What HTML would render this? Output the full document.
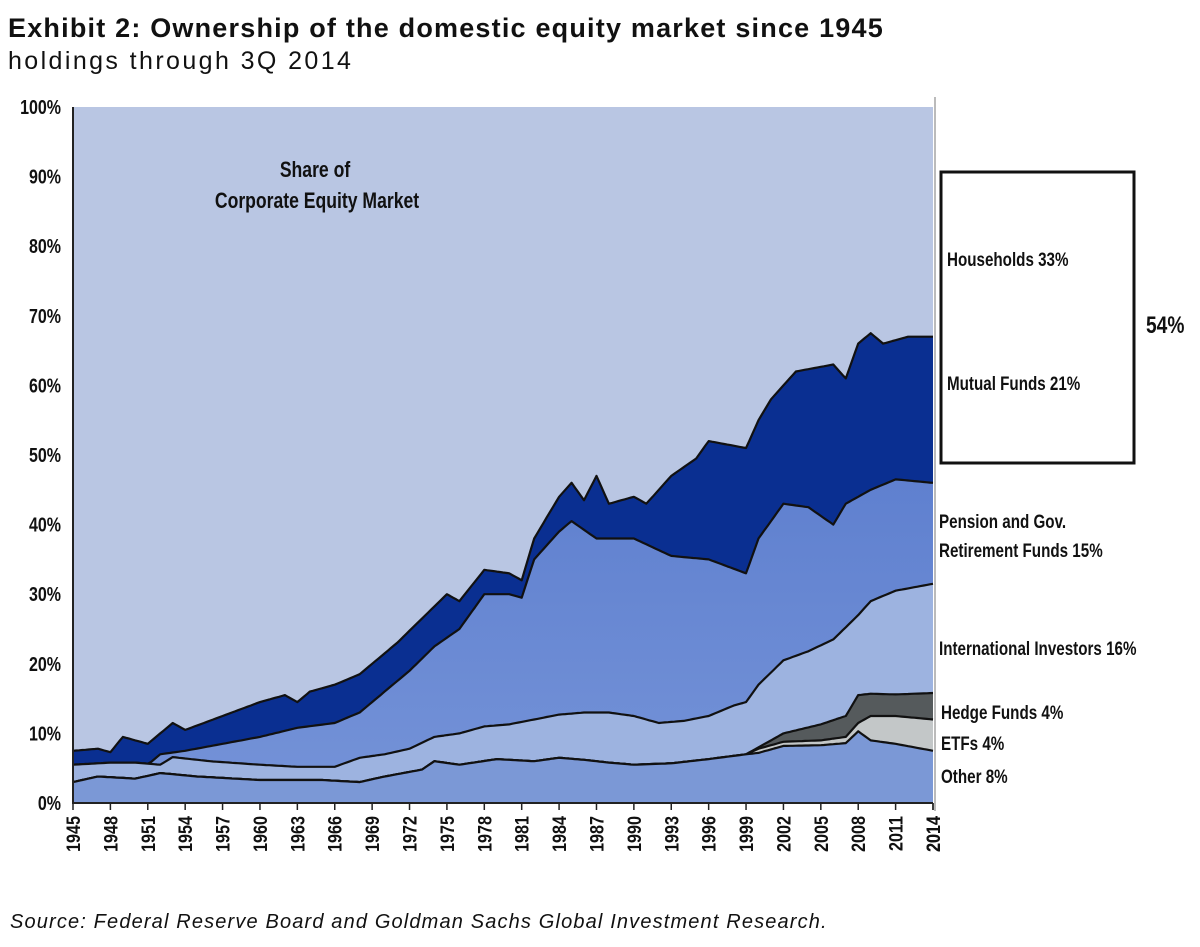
<!DOCTYPE html>
<html><head><meta charset="utf-8">
<style>
body{margin:0;background:#fff;width:1200px;height:947px;overflow:hidden;font-family:"Liberation Sans",sans-serif;}
#title{position:absolute;left:8px;top:13px;font-size:27px;font-weight:bold;color:#111;letter-spacing:1.2px;}
#sub{position:absolute;left:8px;top:47px;font-size:25px;color:#111;letter-spacing:2.4px;}
#src{position:absolute;left:10px;top:911px;font-size:20px;font-style:italic;color:#111;letter-spacing:1.15px;}
svg text{font-family:"Liberation Sans",sans-serif;font-weight:bold;fill:#111;}
</style></head><body>
<div id="title">Exhibit 2: Ownership of the domestic equity market since 1945</div>
<div id="sub">holdings through 3Q 2014</div>
<svg id="chart" width="1200" height="947" style="position:absolute;left:0;top:0"></svg>
<div id="src">Source: Federal Reserve Board and Goldman Sachs Global Investment Research.</div>
<script>
// cumulative tops (%) for each layer
const otherYears=[1945,1947,1950,1952,1955,1960,1965,1968,1970,1973,1974,1976,1979,1982,1984,1986,1988,1990,1993,1996,1999,2000,2002,2005,2007,2008,2009,2011,2014];
const otherTop=[3,3.8,3.5,4.3,3.8,3.3,3.3,3,3.8,4.8,6,5.5,6.3,6,6.5,6.2,5.8,5.5,5.7,6.3,7,7.2,8.2,8.3,8.6,10.3,9,8.5,7.5];
const etfYears=[1999,2000,2002,2005,2007,2008,2009,2011,2014];
const etfTop=[7,7.8,8.8,9,9.5,11.5,12.5,12.5,12];
const hedgeYears=[1999,2000,2002,2005,2007,2008,2009,2011,2014];
const hedgeTop=[7,8,10,11.3,12.5,15.5,15.7,15.6,15.8];
const intlYears=[1945,1948,1950,1952,1953,1956,1960,1963,1966,1968,1970,1972,1974,1976,1978,1980,1982,1984,1986,1988,1990,1992,1994,1996,1998,1999,2000,2002,2004,2006,2008,2009,2011,2014];
const intlTop=[5.5,5.8,5.8,5.5,6.6,6,5.5,5.2,5.2,6.5,7,7.8,9.5,10,11,11.3,12,12.7,13,13,12.5,11.5,11.8,12.5,14,14.5,17,20.5,21.8,23.5,27,29,30.5,31.5];
const penYears=[1945,1951,1952,1954,1957,1960,1963,1966,1968,1970,1972,1974,1976,1978,1980,1981,1982,1984,1985,1987,1990,1993,1996,1999,2000,2002,2004,2006,2007,2009,2011,2014];
const penTop=[5.5,5.5,7,7.5,8.5,9.5,10.8,11.5,13,16,19,22.5,25,30,30,29.5,35,39,40.5,38,38,35.5,35,33,38,43,42.5,40,43,45,46.5,46];
const mfYears=[1945,1947,1948,1949,1951,1952,1953,1954,1957,1960,1962,1963,1964,1966,1968,1969,1971,1973,1975,1976,1978,1980,1981,1982,1984,1985,1986,1987,1988,1990,1991,1993,1995,1996,1999,2000,2001,2003,2006,2007,2008,2009,2010,2012,2014];
const mfTop=[7.5,7.8,7.3,9.5,8.5,10,11.5,10.5,12.5,14.5,15.5,14.5,16,17,18.5,20,23,26.5,30,29,33.5,33,32,38,44,46,43.5,47,43,44,43,47,49.5,52,51,55,58,62,63,61,66,67.5,66,67,67];
const yTicks=[0,10,20,30,40,50,60,70,80,90,100];
const xTicks=[];for(let y=1945;y<=2014;y+=3)xTicks.push(y);xTicks.push(2014);

const svg=document.getElementById('chart');const NS='http://www.w3.org/2000/svg';
const L=73,R=933,B=803,T=107;
const X=yr=>L+(yr-1945)*(R-L)/69;
const Y=v=>B-v*(B-T)/100;
function mk(tag,attrs,parent){const e=document.createElementNS(NS,tag);for(const k in attrs)e.setAttribute(k,attrs[k]);(parent||svg).appendChild(e);return e;}
function interp(ys,vs,yr){if(yr<=ys[0])return vs[0];for(let i=1;i<ys.length;i++){if(yr<=ys[i]){const t=(yr-ys[i-1])/(ys[i]-ys[i-1]);return vs[i-1]+t*(vs[i]-vs[i-1]);}}return vs[vs.length-1];}
const grid=[];for(let y=1945;y<=2014.001;y+=0.25)grid.push(y);
const defs=mk('defs',{});
const gr=mk('linearGradient',{id:'pg',x1:0,y1:0,x2:0,y2:1},defs);
mk('stop',{offset:0,'stop-color':'#5f80cf'},gr);mk('stop',{offset:1,'stop-color':'#7593d8'},gr);
const bg=mk('rect',{x:L,y:T,width:R-L,height:B-T,fill:'#b9c6e3'});


const stack=[
 ['other-area',otherYears,otherTop,'#7b98d6'],
 ['etfs-area',etfYears,etfTop,'#c3c7c8'],
 ['hedge-funds-area',hedgeYears,hedgeTop,'#555a5c'],
 ['international-area',intlYears,intlTop,'#9db3e0'],
 ['pension-area',penYears,penTop,'url(#pg)'],
 ['mutual-funds-area',mfYears,mfTop,'#0a2f91']];
let prev=grid.map(()=>0);const tops=[];
stack.forEach(([nm,ys,vs])=>{
 const cur=grid.map((g,i)=>g<ys[0]?prev[i]:Math.max(prev[i],interp(ys,vs,g)));
 tops.push(cur);prev=cur;
});
for(let k=stack.length-1;k>=0;k--){
 const [nm,,,fill]=stack[k];
 const pts=grid.map((g,i)=>X(g).toFixed(1)+','+Y(tops[k][i]).toFixed(1));
 const p=mk('path',{d:'M'+pts.join('L')+'L'+R+','+B+'L'+L+','+B+'Z',fill:fill,stroke:'none'});
 
 
 const ln=mk('path',{d:'M'+pts.join('L'),fill:'none',stroke:'#111','stroke-width':2.2,'stroke-linejoin':'round'});
 
 
}
const ax=mk('path',{d:`M${L},${T}V${B}H${R}`,stroke:'#222','stroke-width':2,fill:'none'});


mk('line',{x1:R+2,y1:T-10,x2:R+2,y2:B+8,stroke:'#bbb','stroke-width':2});
const SX=0.8;
function lab(x,y,s,nm,size,anchor){
 const t=mk('text',{transform:`translate(${x},${y}) scale(${SX},1)`,'font-size':size||19,'text-anchor':anchor||'start'});t.textContent=s;
 
 return t;}
yTicks.forEach(v=>{lab(L-12,Y(v)+7,v+'%','y-tick-label',20,'end');});
xTicks.forEach(yr=>{
 mk('line',{x1:X(yr),y1:B,x2:X(yr),y2:B+7,stroke:'#222','stroke-width':1.5});
 const t=mk('text',{transform:`translate(${X(yr)+7},${B+13}) rotate(-90) scale(0.85,1)`,'text-anchor':'end','font-size':19});t.textContent=yr;
 
 
});
lab(315,177,'Share of','inner-title-line1',22,'middle');
lab(317,208,'Corporate Equity Market','inner-title-line2',22,'middle');
const box=mk('rect',{x:941,y:172,width:193,height:291,fill:'#fff',stroke:'#111','stroke-width':3});


lab(947,266,'Households 33%','label-households');
lab(947,390,'Mutual Funds 21%','label-mutual-funds');
lab(1146,333,'54%','label-combined-54',24);
lab(939,528,'Pension and Gov.','label-pension-1');
lab(939,557,'Retirement Funds 15%','label-pension-2');
lab(939,655,'International Investors 16%','label-international');
lab(941,719,'Hedge Funds 4%','label-hedge-funds');
lab(941,750,'ETFs 4%','label-etfs');
lab(941,783,'Other 8%','label-other');
</script>
</body></html>
